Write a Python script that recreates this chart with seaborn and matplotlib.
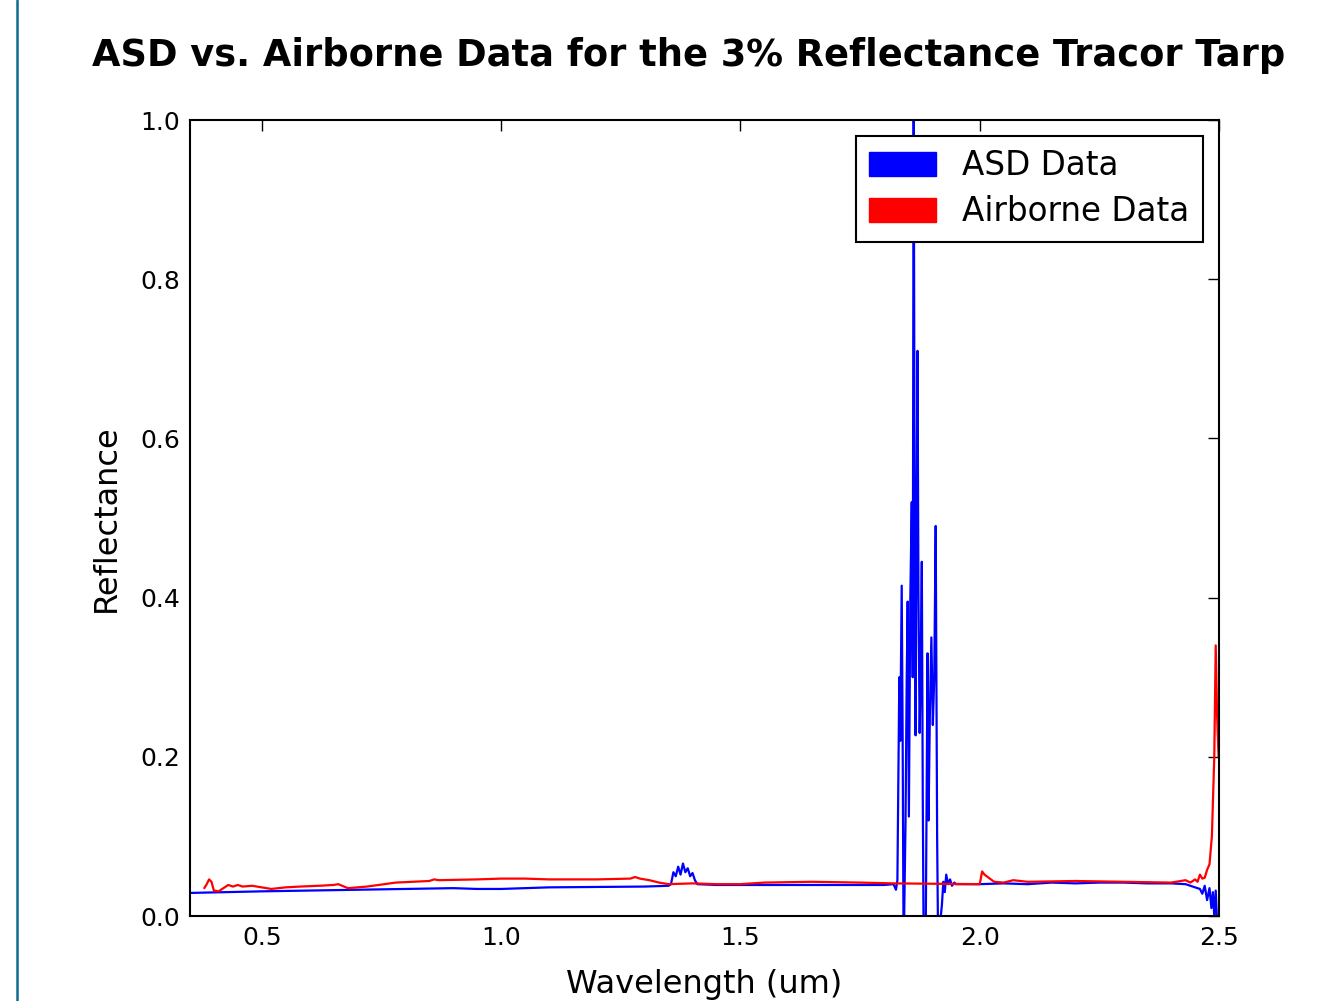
import numpy as np
import pandas as pd
import matplotlib
matplotlib.use("Agg")
import matplotlib.pyplot as plt
import matplotlib.patches as mpatches
from matplotlib.lines import Line2D
import seaborn as sns

# ASD field spectrometer readings (wavelength um, reflectance)
asd_wl = [0.35, 0.50, 0.70, 0.90, 0.95, 1.00, 1.10, 1.30, 1.35, 1.355, 1.36, 1.365,
          1.37, 1.375, 1.38, 1.385, 1.39, 1.395, 1.40, 1.405, 1.41, 1.45, 1.60, 1.80,
          1.82, 1.825, 1.828, 1.832, 1.834, 1.837, 1.839, 1.841, 1.845, 1.8475, 1.8495,
          1.852, 1.855, 1.858, 1.860, 1.862, 1.864, 1.866, 1.868, 1.870, 1.872, 1.8745,
          1.8765, 1.879, 1.881, 1.883, 1.887, 1.891, 1.893, 1.896, 1.899, 1.902, 1.905,
          1.908, 1.911, 1.913, 1.917, 1.921, 1.924, 1.927, 1.930, 1.934, 1.938, 1.942,
          1.947, 1.95, 2.00, 2.05, 2.10, 2.15, 2.20, 2.25, 2.30, 2.35, 2.40, 2.43,
          2.45, 2.46, 2.465, 2.47, 2.475, 2.48, 2.484, 2.487, 2.49, 2.493, 2.496, 2.50]
asd_refl = [0.029, 0.031, 0.033, 0.035, 0.034, 0.034, 0.036, 0.037, 0.038, 0.040, 0.055, 0.050,
            0.062, 0.052, 0.066, 0.055, 0.060, 0.050, 0.054, 0.045, 0.040, 0.039, 0.039, 0.039,
            0.040, 0.033, 0.045, 0.300, 0.220, 0.415, 0.220, -0.050, 0.120, 0.300, 0.395,
            0.125, 0.400, 0.520, 0.300, 1.050, 0.500, 0.227, 0.500, 0.710, 0.400, 0.230,
            0.300, 0.445, 0.150, -0.050, -0.040, 0.330, 0.120, 0.260, 0.350, 0.240, 0.300,
            0.490, 0.100, -0.030, -0.010, 0.014, 0.043, 0.030, 0.052, 0.040, 0.046, 0.038,
            0.042, 0.040, 0.040, 0.041, 0.040, 0.042, 0.041, 0.042, 0.042, 0.041, 0.041, 0.040,
            0.036, 0.034, 0.028, 0.038, 0.020, 0.035, 0.010, 0.030, 0.000, 0.032, -0.010, 0.000]

# Airborne sensor readings
air_wl = [0.38, 0.385, 0.39, 0.395, 0.40, 0.41, 0.42, 0.43, 0.44, 0.45, 0.46, 0.48,
          0.50, 0.52, 0.55, 0.58, 0.62, 0.65, 0.66, 0.68, 0.72, 0.78, 0.85, 0.86,
          0.87, 0.95, 1.00, 1.05, 1.10, 1.20, 1.27, 1.28, 1.29, 1.31, 1.33, 1.35,
          1.40, 1.45, 1.50, 1.55, 1.65, 1.75, 1.82, 2.00, 2.005, 2.01, 2.03, 2.05,
          2.07, 2.10, 2.20, 2.30, 2.40, 2.43, 2.44, 2.45, 2.455, 2.46, 2.465, 2.47,
          2.475, 2.48, 2.485, 2.49, 2.493, 2.496, 2.499]
air_refl = [0.035, 0.040, 0.046, 0.043, 0.032, 0.031, 0.035, 0.039, 0.037, 0.039, 0.037, 0.038,
            0.036, 0.034, 0.036, 0.037, 0.038, 0.039, 0.040, 0.035, 0.037, 0.042, 0.044, 0.046,
            0.045, 0.046, 0.047, 0.047, 0.046, 0.046, 0.047, 0.049, 0.047, 0.045, 0.042, 0.040,
            0.041, 0.040, 0.040, 0.042, 0.043, 0.042, 0.041, 0.040, 0.056, 0.052, 0.043, 0.042,
            0.045, 0.043, 0.044, 0.043, 0.042, 0.045, 0.042, 0.046, 0.043, 0.052, 0.047, 0.048,
            0.058, 0.065, 0.100, 0.200, 0.340, 0.250, 0.200]

asd = pd.DataFrame({"wl": asd_wl, "refl": asd_refl})
air = pd.DataFrame({"wl": air_wl, "refl": air_refl})

sns.set_style("white")
plt.rcParams["font.family"] = ["DejaVu Sans"]
plt.rcParams["xtick.direction"] = "in"
plt.rcParams["ytick.direction"] = "in"
for key in ["text.color", "axes.labelcolor", "xtick.color", "ytick.color"]:
    plt.rcParams[key] = "black"

fig = plt.figure(figsize=(13.31, 10.01), dpi=100)
ax = fig.add_axes([0.1427, 0.0849, 0.9159 - 0.1427, 0.8801 - 0.0849])

sns.lineplot(data=asd, x="wl", y="refl", color="blue", lw=1.6, sort=False,
             estimator=None, ax=ax)
sns.lineplot(data=air, x="wl", y="refl", color="red", lw=1.6, sort=False,
             estimator=None, ax=ax)

ax.set_xlim(0.35, 2.5)
ax.set_ylim(0, 1.0)
ax.set_xticks([0.5, 1.0, 1.5, 2.0, 2.5])
ax.set_yticks([0.0, 0.2, 0.4, 0.6, 0.8, 1.0])
ax.tick_params(axis="both", which="both", top=True, right=True, length=8, width=1,
               color="black", labelsize=18, pad=7)
for s in ax.spines.values():
    s.set_color("black")
    s.set_linewidth(1.5)

ax.set_xlabel("Wavelength (um)", fontsize=23, labelpad=14)
ax.set_ylabel("Reflectance", fontsize=23, labelpad=13)
ax.set_title("ASD vs. Airborne Data for the 3% Reflectance Tracor Tarp",
             fontsize=26.5, fontweight="bold", pad=39, x=0.4845)

handles = [mpatches.Patch(color="blue", label="ASD Data"),
           mpatches.Patch(color="red", label="Airborne Data")]
leg = ax.legend(handles=handles, loc="upper right", fontsize=23.5, fancybox=False,
                framealpha=1, edgecolor="black", handlelength=2.05, handleheight=0.75,
                borderaxespad=0.5, borderpad=0.4, labelspacing=0.4, handletextpad=0.8)
leg.get_frame().set_linewidth(1.5)

# border line at the left edge of the screenshot
fig.add_artist(Line2D([0.0125, 0.0125], [0, 1], transform=fig.transFigure,
                      color="#0e6b94", lw=1.8))

fig.savefig("out.png", dpi=100)
